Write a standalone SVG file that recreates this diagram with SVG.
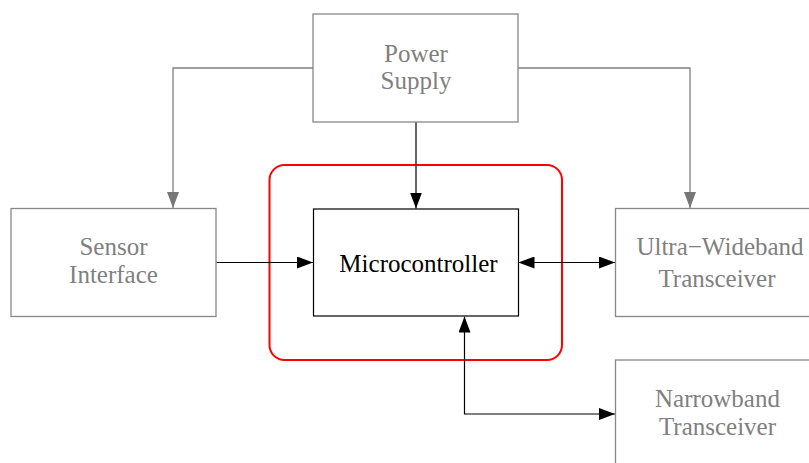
<svg xmlns="http://www.w3.org/2000/svg" width="809" height="463" viewBox="0 0 809 463">
<defs>
<marker id="ab" viewBox="0 0 16 12" refX="16" refY="6" markerWidth="16" markerHeight="12" markerUnits="userSpaceOnUse" orient="auto-start-reverse"><path d="M0,0 L16,6 L0,12 Z" fill="#000"/></marker>
<marker id="ag" viewBox="0 0 16 12" refX="16" refY="6" markerWidth="16" markerHeight="12" markerUnits="userSpaceOnUse" orient="auto"><path d="M0,0 L16,6 L0,12 Z" fill="#777"/></marker>
</defs>
<style>
.g rect{fill:#fff;stroke:#888;stroke-width:1.3}
.g text{fill:#808080}
.k rect{fill:#fff;stroke:#000;stroke-width:1.2}
text{font-family:"Liberation Serif","Times New Roman",serif;font-size:25px;text-anchor:middle}
.cg{fill:none;stroke:#808080;stroke-width:1.3;marker-end:url(#ag)}
.ck{fill:none;stroke:#000;stroke-width:1.2;marker-end:url(#ab)}
.cd{fill:none;stroke:#000;stroke-width:1.2;marker-start:url(#ab);marker-end:url(#ab)}
</style>
<rect width="809" height="463" fill="#fff"/>
<rect id="group" x="269.5" y="165" width="292.5" height="195" rx="15" ry="15" fill="none" stroke="#f00" stroke-width="2"/>
<g id="connectors">
<path class="cg" d="M313,68 H173 V208"/>
<path class="cg" d="M518,68 H690 V208"/>
<path class="ck" d="M416,122 V208.5"/>
<path class="ck" d="M216.5,262.5 H313"/>
<path class="cd" d="M518.5,262.5 H615"/>
<path class="cd" d="M464.5,316.5 V414 H615"/>
</g>
<g id="power" class="g"><rect x="313" y="14" width="205" height="108"/><text x="416" y="62">Power</text><text x="416" y="89">Supply</text></g>
<g id="sensor" class="g"><rect x="11" y="208.5" width="205" height="108"/><text x="113.5" y="255">Sensor</text><text x="113.5" y="283">Interface</text></g>
<g id="mcu" class="k"><rect x="313.5" y="209" width="205" height="107"/><text x="418.5" y="272" fill="#000">Microcontroller</text></g>
<g id="uwb" class="g"><rect x="615.5" y="208.5" width="210" height="108"/><text x="720" y="255">Ultra−Wideband</text><text x="717" y="287">Transceiver</text></g>
<g id="nb" class="g"><rect x="615.5" y="360" width="205" height="108"/><text x="717.5" y="407">Narrowband</text><text x="717.5" y="435">Transceiver</text></g>
</svg>
